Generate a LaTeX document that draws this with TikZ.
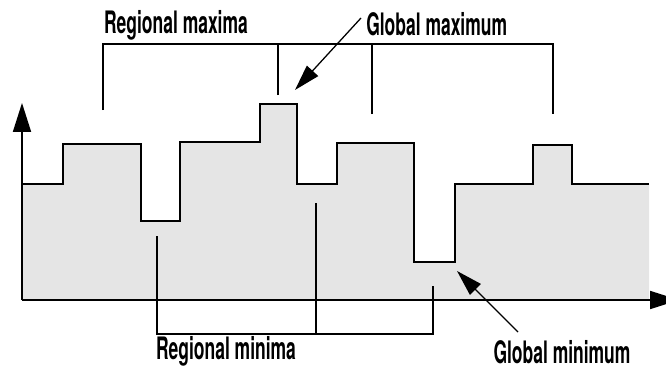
\documentclass[tikz,border=0pt]{standalone}
\usepackage{fontspec}
\setmainfont{TeX Gyre Heros}[FakeStretch=0.565]
\usetikzlibrary{arrows.meta,positioning}
\definecolor{extfill}{RGB}{229,229,229}
\definecolor{extink}{RGB}{0,0,0}

\begin{document}
\begin{tikzpicture}[
  x=0.025cm, y=-0.025cm,
  font=\fontsize{22}{24}\selectfont\bfseries,
  axis/.style={draw=extink, line width=1pt, -{Triangle[length=0.72cm,width=0.45cm]}},
  profile/.style={draw=extink, line width=1pt},
  bracket/.style={draw=extink, line width=0.9pt},
  pointer/.style={draw=extink, line width=0.9pt, -{Triangle[length=0.65cm,width=0.38cm]}},
  label/.style={inner sep=0pt, text=extink}
]
\useasboundingbox (0,0) rectangle (666,368);

% area under the signal
\fill[extfill] (22,300) -- (22,184) -- (63,184) -- (63,144) -- (141,144) -- (141,221)
  -- (180,221) -- (180,142) -- (260,142) -- (260,104) -- (297,104) -- (297,184)
  -- (337,184) -- (337,143) -- (414,143) -- (414,262) -- (455,262) -- (455,184)
  -- (533,184) -- (533,145) -- (572,145) -- (572,184) -- (649,184) -- (649,300) -- cycle;
\draw[profile] (22,184) -- (63,184) -- (63,144) -- (141,144) -- (141,221)
  -- (180,221) -- (180,142) -- (260,142) -- (260,104) -- (297,104) -- (297,184)
  -- (337,184) -- (337,143) -- (414,143) -- (414,262) -- (455,262) -- (455,184)
  -- (533,184) -- (533,145) -- (572,145) -- (572,184) -- (649,184);

% axes
\coordinate (origin) at (22,300);
\coordinate (ytip) at (22,103);
\coordinate (xtip) at (679,300);
\draw[axis] (origin) -- (ytip);
\draw[axis] (origin) -- (xtip);

% regional maxima bracket
\coordinate (maxbar) at (0,44);
\coordinate (maxA) at (103,110);
\coordinate (maxB) at (278,95);
\coordinate (maxC) at (372,114);
\coordinate (maxD) at (553,114);
\draw[bracket] (maxA) -- (maxA |- maxbar) -- (maxD |- maxbar) -- (maxD);
\draw[bracket] (maxB) -- (maxB |- maxbar);
\draw[bracket] (maxC) -- (maxC |- maxbar);
\draw[extink, line width=1.6pt] (245,44) -- (296,44);

% regional minima bracket
\coordinate (minbar) at (0,334);
\coordinate (minA) at (157,236);
\coordinate (minB) at (316,203);
\coordinate (minC) at (433,286);
\draw[bracket] (minA) -- (minA |- minbar) -- (minC |- minbar) -- (minC);
\draw[bracket] (minB) -- (minB |- minbar);
\draw[extink, line width=1.6pt] (316,334) -- (350,334);

% labels
\node[label] (regmax) at (176,25) {Regional maxima};
\node[label, anchor=west] (globmax) at (366,24) {Global maximum};
\node[label, anchor=south] (regmin) at (226,367) {Regional minima};
\node[label] (globmin) at (562,352) {Global minimum};

% pointers
\coordinate (gmaxtail) at (361,18);
\coordinate (gmaxtip) at (295,90);
\coordinate (gmintail) at (518,332);
\coordinate (gmintip) at (457,271);
\draw[pointer] (gmaxtail) -- (gmaxtip);
\draw[pointer] (gmintail) -- (gmintip);
\end{tikzpicture}
\end{document}
